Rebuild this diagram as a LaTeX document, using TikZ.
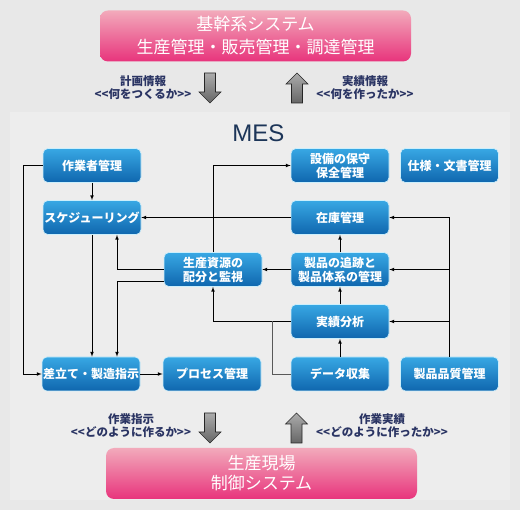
\documentclass[tikz,border=0pt]{standalone}
\usepackage{fontspec}
\setmainfont{Noto Sans CJK JP}
\newfontfamily\mesfont{Liberation Sans}
\usepackage{tikz}
\definecolor{boxtop}{HTML}{38A8E4}
\definecolor{boxbot}{HTML}{0F66AE}
\definecolor{pinktop}{HTML}{F2AABB}
\definecolor{pinkbot}{HTML}{E8347C}
\definecolor{labelnavy}{HTML}{2A3463}
\definecolor{mesnavy}{HTML}{1C3558}

\begin{document}
\begin{tikzpicture}[x=1pt, y=-1pt,
  every node/.style={align=center, text=white, font=\fontsize{12}{14}\selectfont\bfseries},
  mesbox/.style={rectangle, rounded corners=5pt, minimum width=98pt, minimum height=34pt, inner sep=0pt, top color=boxtop, bottom color=boxbot, draw=cyan!20!white, line width=0.6pt},
  sysbox/.style={rectangle, rounded corners=8pt, minimum width=311pt, minimum height=51pt, inner sep=0pt, top color=pinktop, bottom color=pinkbot, draw=none, font=\fontsize{17}{23}\selectfont},
  infolabel/.style={text=labelnavy, font=\fontsize{11.5}{13}\selectfont\bfseries},
  bigarrow/.style={draw=black!85, line width=0.6pt, top color=gray!65, bottom color=black!60},
  link/.style={draw, line width=0.7pt, ->, >=latex}]
\useasboundingbox (0,0) rectangle (520,510);
\fill[black!9] (0,0) rectangle (520,510);
\fill[black!7] (10,112) rectangle (510,500);
\node[sysbox] (ERP) at (255.5,36) {基幹系システム\\生産管理・販売管理・調達管理};
\node[sysbox, font=\fontsize{17}{20}\selectfont] (FLOOR) at (261.5,473.5) {生産現場\\制御システム};
\node[text=mesnavy, font=\mesfont\fontsize{24}{24}\selectfont] (MES) at (258.5,133) {MES};
\node[mesbox] (WORKER) at (92,165.5) {作業者管理};
\node[mesbox] (SCHED) at (92,217.5) {スケジューリング};
\node[mesbox] (EQUIP) at (340,165.5) {設備の保守\\保全管理};
\node[mesbox] (DOCS) at (449.5,165.5) {仕様・文書管理};
\node[mesbox] (STOCK) at (340,217.5) {在庫管理};
\node[mesbox] (RESRC) at (213,269.5) {生産資源の\\配分と監視};
\node[mesbox] (TRACK) at (340,269.5) {製品の追跡と\\製品体系の管理};
\node[mesbox] (ANALYS) at (340,321.5) {実績分析};
\node[mesbox] (DISPATCH) at (91,374) {差立て・製造指示};
\node[mesbox] (PROCESS) at (212,374) {プロセス管理};
\node[mesbox] (DATA) at (340,374) {データ収集};
\node[mesbox] (QUALITY) at (449.5,374) {製品品質管理};
\node[infolabel] (PLAN) at (143,88) {計画情報\\<{}<何をつくるか>{}>};
\node[infolabel] (RESULT) at (365,88) {実績情報\\<{}<何を作ったか>{}>};
\node[infolabel] (ORDER) at (131,426) {作業指示\\<{}<どのように作るか>{}>};
\node[infolabel] (DONE) at (382,426) {作業実績\\<{}<どのように作ったか>{}>};
\draw[bigarrow] (204.5,73) -- (215.5,73) -- (215.5,92) -- (221,92) -- (210,103) -- (199,92) -- (204.5,92) -- cycle;
\draw[bigarrow] (297,73) -- (308,84) -- (302.5,84) -- (302.5,103) -- (291.5,103) -- (291.5,84) -- (286,84) -- cycle;
\draw[bigarrow] (204.5,413) -- (215.5,413) -- (215.5,432) -- (221,432) -- (210,443) -- (199,432) -- (204.5,432) -- cycle;
\draw[bigarrow] (296.5,413) -- (307.5,424) -- (302,424) -- (302,443) -- (291,443) -- (291,424) -- (285.5,424) -- cycle;
\draw[link] (WORKER) -- (SCHED);
\draw[link] (WORKER.west) -- ++(-19,0) |- (DISPATCH.west);
\draw[link] (SCHED.south) -- (SCHED.south |- DISPATCH.north);
\draw[link] (RESRC.west) -| ([xshift=25pt]SCHED.south);
\draw[link] ([yshift=-11.5pt]RESRC.west) -| ([xshift=26pt]DISPATCH.north);
\draw[link] (RESRC.north) |- (EQUIP.west);
\draw[link] (STOCK.west) -- (SCHED.east);
\draw[link] (TRACK) -- (STOCK);
\draw[link] (TRACK.west) -- (RESRC.east);
\draw[link] (ANALYS) -- (TRACK);
\draw[link] (DATA) -- (ANALYS);
\draw[link] (QUALITY.north) |- (STOCK.east);
\draw[link] (QUALITY.north) |- (TRACK.east);
\draw[link] (QUALITY.north) |- (ANALYS.east);
\draw[link] (ANALYS.west) -| (RESRC.south);
\coordinate (JOIN) at ([xshift=-18pt]ANALYS.west);
\draw[line width=0.7pt, black!65] (DATA.west) -| (JOIN);
\draw[link] (DISPATCH) -- (PROCESS);
\end{tikzpicture}
\end{document}
